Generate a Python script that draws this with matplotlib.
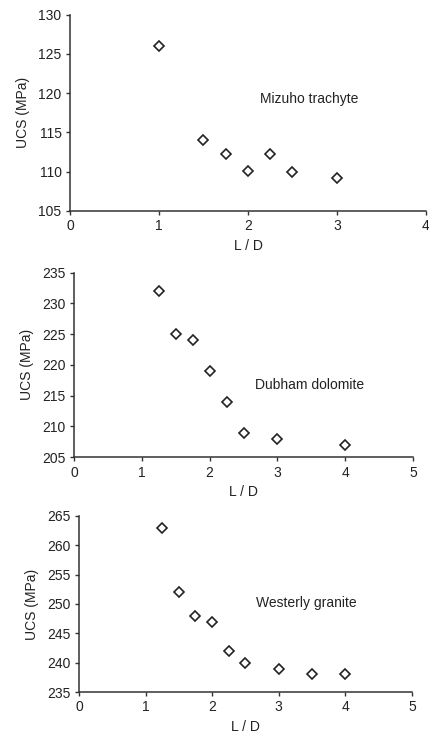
import matplotlib
matplotlib.use('Agg')
import matplotlib.pyplot as plt

plt.rcParams['font.family'] = ['Liberation Sans', 'DejaVu Sans']

# UCS against length/diameter ratio for three rocks
ld_mizuho = [1.0, 1.5, 1.75, 2.0, 2.25, 2.5, 3.0]
ucs_mizuho = [126, 114, 112.2, 110.1, 112.2, 110, 109.2]

ld_dubham = [1.25, 1.5, 1.75, 2.0, 2.25, 2.5, 3.0, 4.0]
ucs_dubham = [232, 225, 224, 219, 214, 209, 208, 207]

ld_westerly = [1.25, 1.5, 1.75, 2.0, 2.25, 2.5, 3.0, 3.5, 4.0]
ucs_westerly = [263, 252, 248, 247, 242, 240, 239, 238, 238]

panels = [
    (ld_mizuho, ucs_mizuho, 'Mizuho trachyte', (0, 4), (105, 130), (2.13, 119.2),
     [0.163, 0.713, 0.830, 0.267]),
    (ld_dubham, ucs_dubham, 'Dubham dolomite', (0, 5), (205, 235), (2.67, 216.7),
     [0.1725, 0.378, 0.7905, 0.251]),
    (ld_westerly, ucs_westerly, 'Westerly granite', (0, 5), (235, 265), (2.66, 250.2),
     [0.184, 0.0585, 0.776, 0.2395]),
]

fig = plt.figure(figsize=(4.29, 7.35), dpi=100)
axis_col = '#333333'

for x, y, name, xlim, ylim, txt, rect in panels:
    ax = fig.add_axes(rect)
    ax.plot(x, y, linestyle='none', marker='D', markersize=5.5,
            markerfacecolor='white', markeredgecolor='#222222', markeredgewidth=1.2)
    ax.set_xlim(*xlim)
    ax.set_ylim(*ylim)
    ax.set_xticks(range(xlim[0], xlim[1] + 1))
    ax.set_yticks(range(ylim[0], ylim[1] + 1, 5))
    for side in ['top', 'right']:
        ax.spines[side].set_visible(False)
    for side in ['left', 'bottom']:
        ax.spines[side].set_color(axis_col)
        ax.spines[side].set_linewidth(1.1)
    ax.tick_params(colors=axis_col, labelcolor='#222222', labelsize=10,
                   length=3, width=1.0, pad=3)
    ax.set_xlabel('L / D', fontsize=10, color='#222222', labelpad=4)
    ax.set_ylabel('UCS (MPa)', fontsize=10, color='#222222', labelpad=6)
    ax.text(txt[0], txt[1], name, fontsize=10, color='#222222', va='center')

fig.savefig('out.png', dpi=100)
